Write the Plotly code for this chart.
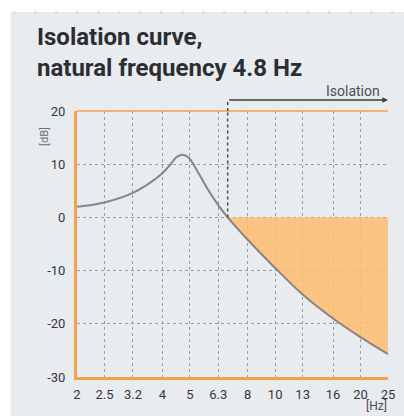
import numpy as np
import plotly.graph_objects as go

# ---- data ----
freq_hz = [2, 2.5, 3.15, 3.5, 3.75, 4, 4.25, 4.48, 4.66, 4.87, 5, 5.33, 5.77, 6.3, 6.8,
           8, 10, 12.5, 16, 20, 25]
level_db = [2.0, 2.8, 4.6, 6.0, 7.1, 8.3, 9.8, 11.3, 11.75, 11.5, 11.0, 8.6, 5.4, 2.3, 0.0,
            -4.2, -9.5, -14.5, -19.0, -22.5, -25.7]
isolation_start = 6.8
x_tickvals = [2, 2.5, 3.15, 4, 5, 6.3, 8, 10, 12.5, 16, 20, 25]
x_ticktext = ["2", "2.5", "3.2", "4", "5", "6.3", "8", "10", "13", "16", "20", "25"]
y_tickvals = [-30, -20, -10, 0, 10, 20]
y_ticktext = ["-30", "-20", "-10", "0", "10", "20"]
title_text = "Isolation curve,<br>natural frequency 4.8 Hz"

# ---- styles ----
PANEL = "#E9ECEF"
ORANGE = "#F6A04D"
FILL = "rgba(255,189,111,0.85)"
CURVE = "#858585"
GRID = "#9C9C9C"
TEXT = "#2B2E33"
FONT = "Roboto"

W, H = 404, 416
L, R, T, B = 77, 9, 111, 39
pw, ph = W - L - R, H - T - B

def px2paper_x(px):
    return (px - L) / pw

def px2paper_y(py):
    return (H - B - py) / ph

fig = go.Figure()

iso_f = [f for f in freq_hz if f >= isolation_start]
iso_db = [d for f, d in zip(freq_hz, level_db) if f >= isolation_start]

# baseline for fill
fig.add_trace(go.Scatter(x=[iso_f[0], iso_f[-1]], y=[0, 0], mode="lines",
                         line=dict(width=0, color=FILL), hoverinfo="skip", showlegend=False))
fig.add_trace(go.Scatter(x=iso_f, y=iso_db, mode="lines", fill="tonexty", fillcolor=FILL,
                         line=dict(width=0, shape="spline", smoothing=1.0, color=FILL),
                         hoverinfo="skip", showlegend=False))
# curve
fig.add_trace(go.Scatter(x=freq_hz, y=level_db, mode="lines",
                         line=dict(width=2, color=CURVE, shape="spline", smoothing=1.0),
                         showlegend=False))

shapes = [
    # white outside the panel
    dict(type="rect", xref="paper", yref="paper", x0=-2, x1=px2paper_x(9), y0=-2, y1=3,
         fillcolor="white", line=dict(width=0), layer="below"),
    dict(type="rect", xref="paper", yref="paper", x0=-2, x1=3, y0=px2paper_y(12), y1=3,
         fillcolor="white", line=dict(width=0), layer="below"),
    # dotted orange top edge of panel
    dict(type="line", xref="paper", yref="paper", x0=px2paper_x(12), x1=px2paper_x(404),
         y0=px2paper_y(12.5), y1=px2paper_y(12.5),
         line=dict(color="#F8C48E", width=2, dash="2px,19px")),
    # top orange border
    dict(type="line", xref="paper", yref="paper", x0=0, x1=1, y0=1, y1=1,
         line=dict(color=ORANGE, width=1.5)),
    # vertical dotted isolation marker
    dict(type="line", xref="x", yref="y", x0=isolation_start, x1=isolation_start, y0=0, y1=20,
         line=dict(color="#4A4A4A", width=1.5, dash="dot")),
    dict(type="line", xref="x", yref="paper", x0=isolation_start, x1=isolation_start,
         y0=1, y1=px2paper_y(100),
         line=dict(color="#4A4A4A", width=1.5, dash="dot")),
]

annotations = [
    dict(x=px2paper_x(34), y=px2paper_y(21), xref="paper", yref="paper",
         xanchor="left", yanchor="top", align="left", text=title_text, showarrow=False,
         font=dict(family=FONT, size=24, color=TEXT, weight="bold")),
    dict(x=np.log10(25), y=px2paper_y(100), xref="x", yref="paper",
         ax=np.log10(isolation_start), ay=0, axref="x", ayref="pixel",
         text="", showarrow=True, arrowhead=2, arrowsize=0.7, arrowwidth=1.6,
         arrowcolor="#3C3C3C", standoff=0, startstandoff=0),
    dict(x=px2paper_x(389), y=px2paper_y(91), xref="paper", yref="paper",
         xanchor="right", yanchor="middle", text="Isolation", showarrow=False,
         font=dict(family=FONT, size=14, color="#4A4D52")),
    dict(x=px2paper_x(35), y=px2paper_y(125), xref="paper", yref="paper",
         text="[dB]", textangle=-90, showarrow=False,
         font=dict(family=FONT, size=11, color="#6A6D72")),
    dict(x=px2paper_x(396), y=px2paper_y(406), xref="paper", yref="paper",
         xanchor="right", yanchor="middle", text="[Hz]", showarrow=False,
         font=dict(family=FONT, size=12, color="#4A4D52")),
]

fig.update_layout(
    width=W, height=H,
    margin=dict(l=L, r=R, t=T, b=B, pad=0),
    paper_bgcolor=PANEL, plot_bgcolor=PANEL,
    shapes=shapes, annotations=annotations,
    showlegend=False,
    xaxis=dict(type="log", range=[np.log10(2), np.log10(25)],
               tickvals=x_tickvals, ticktext=x_ticktext, ticks="",
               showgrid=True, gridcolor=GRID, griddash="dot", gridwidth=1,
               showline=True, linecolor=ORANGE, linewidth=3,
               zeroline=False, ticklabelstandoff=3,
               tickfont=dict(family=FONT, size=13, color="#33363B")),
    yaxis=dict(range=[-30, 20], tickvals=y_tickvals, ticktext=y_ticktext, ticks="",
               showgrid=True, gridcolor=GRID, griddash="dot", gridwidth=1,
               showline=True, linecolor=ORANGE, linewidth=3,
               zeroline=False, ticklabelstandoff=6,
               tickfont=dict(family=FONT, size=13, color="#33363B")),
)

fig.write_html("out.html", config={"displayModeBar": False},
               post_script="document.body.style.margin='0px';document.body.style.padding='0px';")
